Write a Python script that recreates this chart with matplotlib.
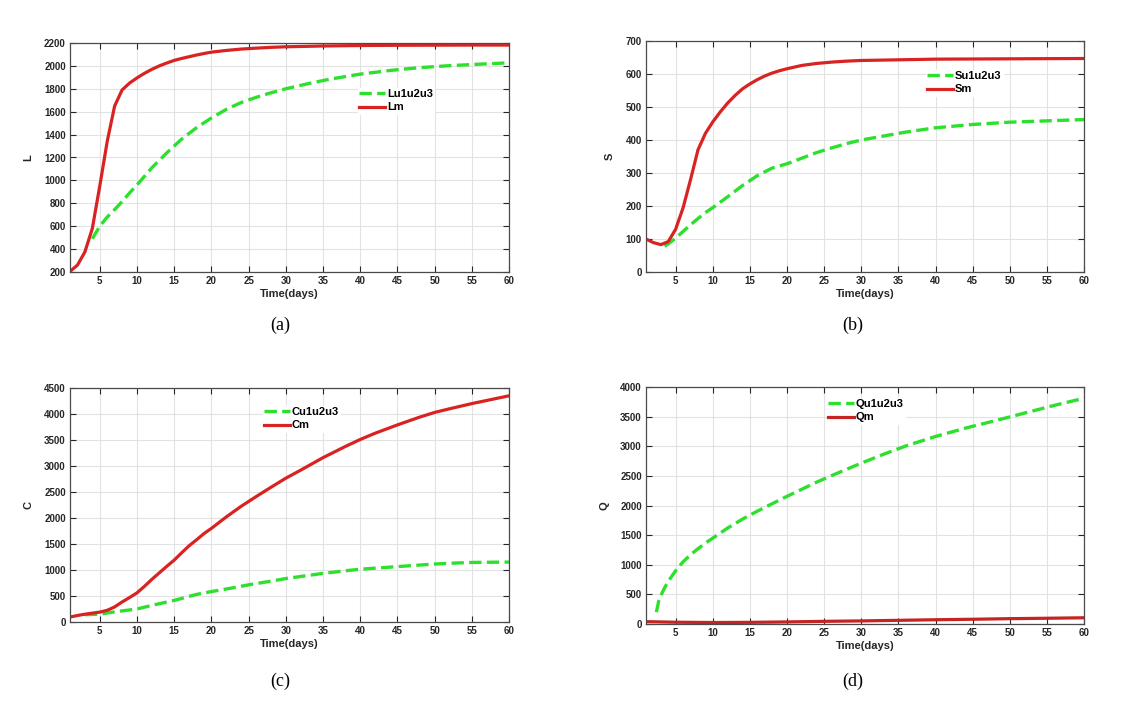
import matplotlib
matplotlib.use("Agg")
import matplotlib.pyplot as plt

plt.rcParams['font.family'] = ['Liberation Sans', 'DejaVu Sans']

# (a) L
t_Lm = [1, 2, 3, 4, 5, 6, 7, 8, 9, 10, 11, 12, 13, 14, 15, 16, 17, 18, 19, 20,
        22, 24, 26, 28, 30, 35, 40, 45, 50, 55, 60]
Lm = [205, 260, 375, 580, 950, 1340, 1650, 1790, 1850, 1895, 1935, 1970, 2000, 2025,
      2048, 2065, 2080, 2095, 2108, 2120, 2135, 2147, 2155, 2162, 2167, 2174, 2178,
      2180, 2181, 2182, 2182]
t_Lu = [4, 5, 6, 7, 8, 9, 10, 12, 14, 16, 18, 20, 22, 24, 26, 28, 30, 33, 36, 40,
        44, 48, 52, 56, 60]
Lu = [490, 600, 680, 745, 815, 890, 960, 1110, 1240, 1360, 1460, 1545, 1620, 1680,
      1725, 1765, 1800, 1845, 1885, 1928, 1960, 1985, 2002, 2015, 2027]

# (b) S
t_Sm = [1, 2, 3, 4, 5, 6, 7, 8, 9, 10, 11, 12, 13, 14, 15, 16, 17, 18, 19, 20,
        22, 24, 26, 28, 30, 35, 40, 50, 60]
Sm = [100, 89, 83, 92, 130, 195, 280, 370, 420, 455, 485, 512, 535, 555, 570, 583,
      594, 603, 610, 616, 626, 632, 636, 639, 641, 643, 645, 646, 647]
t_Su = [3.5, 4, 5, 6, 7, 8, 9, 10, 12, 14, 16, 18, 20, 22, 24, 26, 28, 30, 33, 36,
        40, 45, 50, 55, 60]
Su = [78, 85, 103, 123, 143, 162, 180, 195, 228, 262, 292, 315, 328, 345, 362, 376,
      389, 400, 412, 424, 437, 447, 454, 458, 462]

# (c) C
t_Cm = [1, 2, 3, 4, 5, 6, 7, 8, 9, 10, 11, 12, 13, 14, 15, 16, 17, 18, 19, 20,
        22, 24, 26, 28, 30, 32, 35, 38, 40, 42, 45, 48, 50, 52, 55, 58, 60]
Cm = [95, 125, 150, 170, 190, 225, 290, 385, 470, 560, 685, 820, 945, 1070, 1190,
      1330, 1465, 1580, 1700, 1800, 2020, 2225, 2410, 2590, 2765, 2920, 3160, 3375,
      3510, 3630, 3790, 3940, 4030, 4100, 4200, 4290, 4350]
t_Cu = [3, 5, 7, 10, 12, 15, 18, 20, 23, 25, 28, 30, 33, 35, 38, 40, 43, 45, 48, 50,
        53, 55, 58, 60]
Cu = [140, 150, 195, 250, 320, 415, 530, 585, 660, 715, 785, 835, 895, 935, 985,
      1015, 1045, 1065, 1095, 1115, 1135, 1145, 1150, 1152]

# (d) Q
t_Qu = [2.4, 2.7, 3, 3.5, 4, 5, 6, 7, 8, 9, 10, 12, 14, 16, 18, 20, 22, 24, 26, 28,
        30, 33, 36, 40, 44, 48, 52, 56, 60]
Qu = [200, 380, 480, 610, 720, 900, 1050, 1170, 1270, 1365, 1450, 1620, 1770, 1905,
      2030, 2155, 2275, 2395, 2505, 2610, 2715, 2865, 3005, 3165, 3305, 3430, 3560,
      3690, 3810]
t_Qm = [1, 5, 10, 15, 20, 25, 30, 35, 40, 45, 50, 55, 60]
Qm = [40, 30, 25, 28, 35, 45, 52, 62, 72, 80, 90, 97, 105]

W, H = 1128, 726
fig = plt.figure(figsize=(W / 100, H / 100), dpi=100)
fig.patch.set_facecolor('white')

green = '#2ee02e'
red = '#d92222'

# panel: (pixel box), data, labels, ylim, yticks step, legend pos, caption pos
panels = [
    dict(box=(70, 43, 509, 272), tg=t_Lu, g=Lu, tr=t_Lm, r=Lm, yl='L',
         names=['Lu1u2u3', 'Lm'], ylim=(200, 2200), step=200, leg=(358, 96),
         cap='(a)', capxy=(280, 325), rc=red),
    dict(box=(646, 41, 1084, 272), tg=t_Su, g=Su, tr=t_Sm, r=Sm, yl='S',
         names=['Su1u2u3', 'Sm'], ylim=(0, 700), step=100, leg=(926, 78),
         cap='(b)', capxy=(853, 325), rc=red),
    dict(box=(70, 388, 509, 622), tg=t_Cu, g=Cu, tr=t_Cm, r=Cm, yl='C',
         names=['Cu1u2u3', 'Cm'], ylim=(0, 4500), step=500, leg=(263, 414),
         cap='(c)', capxy=(280, 681), rc=red),
    dict(box=(646, 387, 1084, 624), tg=t_Qu, g=Qu, tr=t_Qm, r=Qm, yl='Q',
         names=['Qu1u2u3', 'Qm'], ylim=(0, 4000), step=500, leg=(827, 406),
         cap='(d)', capxy=(853, 681), rc='#c42424'),
]

for p in panels:
    x0, y0, x1, y1 = p['box']
    ax = fig.add_axes([x0 / W, 1 - y1 / H, (x1 - x0) / W, (y1 - y0) / H])
    lg, = ax.plot(p['tg'], p['g'], '--', color=green, lw=2.4)
    lr, = ax.plot(p['tr'], p['r'], '-', color=p['rc'], lw=2.3)
    ax.set_xlim(1, 60)
    ax.set_ylim(*p['ylim'])
    ax.set_xticks(range(5, 61, 5))
    ax.set_yticks(range(p['ylim'][0], p['ylim'][1] + 1, p['step']))
    ax.grid(True, color='#e2e2e2', lw=0.8)
    ax.set_axisbelow(True)
    ax.tick_params(direction='in', top=True, right=True, length=4, width=0.8,
                   colors='#262626', labelsize=7, pad=3)
    for lab in ax.get_xticklabels() + ax.get_yticklabels():
        lab.set_fontweight('bold')
    for s in ax.spines.values():
        s.set_color('#4a4a4a')
        s.set_linewidth(0.9)
    ax.set_xlabel('Time(days)', fontsize=8, fontweight='bold', color='#262626', labelpad=2)
    ax.set_ylabel(p['yl'], fontsize=8, fontweight='bold', color='#262626', labelpad=8)
    lx, ly = p['leg']
    leg = ax.legend([lg, lr], p['names'], loc='upper left',
                    bbox_to_anchor=(lx / W, 1 - (ly - 8) / H),
                    bbox_transform=fig.transFigure, frameon=True, borderpad=0.1,
                    borderaxespad=0, handlelength=2.3, handletextpad=0.2,
                    labelspacing=0.3, prop={'size': 8, 'weight': 'bold'})
    leg.get_frame().set_facecolor('white')
    leg.get_frame().set_edgecolor('white')
    leg.get_frame().set_alpha(1)
    cx, cy = p['capxy']
    fig.text(cx / W, 1 - cy / H, p['cap'], ha='center', va='center',
             fontsize=13, family='Liberation Serif')

plt.savefig('out.png', dpi=100)
